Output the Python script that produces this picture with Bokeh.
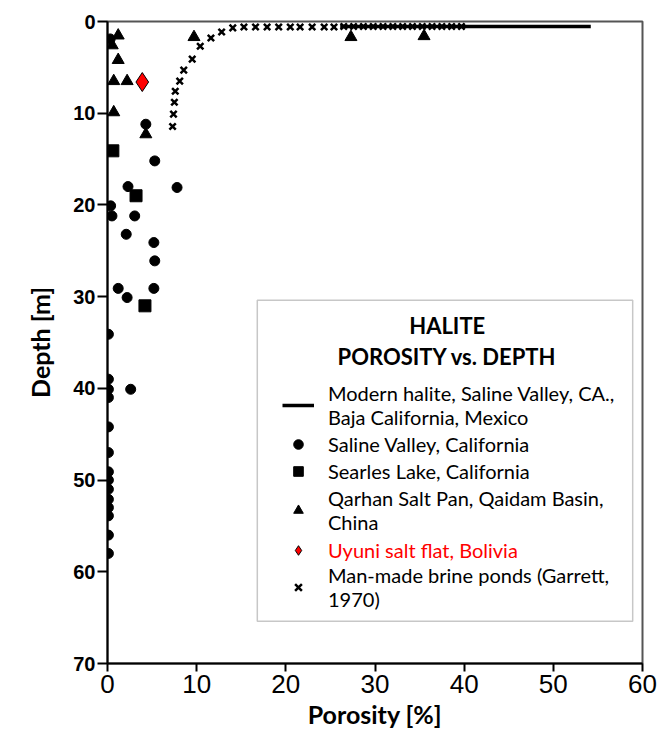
from bokeh.plotting import figure
from bokeh.models import Range1d, FixedTicker, Legend, LegendItem, BoxAnnotation, Label
from bokeh.embed import file_html
from bokeh.resources import INLINE

# ---------------- data ----------------
x_ticks = [0, 10, 20, 30, 40, 50, 60]
y_ticks = [0, 10, 20, 30, 40, 50, 60, 70]

halite_porosity = [26.1, 54.2]
halite_depth = [0.55, 0.55]

saline_porosity = [0.3, 4.3, 5.3, 2.3, 7.8, 0.35, 0.5, 3.05, 2.1, 5.2, 5.3, 1.2, 5.2, 2.2,
                   0.1, 0.1, 0.1, 2.6, 0.1,
                   0.1, 0.1, 0.1, 0.1, 0.1, 0.1, 0.1, 0.1, 0.1, 0.1]
saline_depth = [1.9, 11.2, 15.2, 18.0, 18.1, 20.1, 21.2, 21.2, 23.2, 24.1, 26.1, 29.1, 29.1, 30.1,
                34.1, 39.0, 40.1, 40.1, 41.0,
                44.2, 47.0, 49.1, 50.0, 51.0, 52.1, 53.0, 53.9, 56.0, 58.0]

searles_porosity = [0.6, 3.2, 4.2]
searles_depth = [14.1, 19.0, 31.0]

qarhan_porosity = [1.2, 0.53, 1.2, 0.7, 2.2, 0.7, 4.3, 9.7, 27.3, 35.5]
qarhan_depth = [1.53, 2.6, 4.2, 6.5, 6.5, 9.9, 12.3, 1.7, 1.7, 1.6]

uyuni_porosity = [3.9]
uyuni_depth = [6.6]

ponds_porosity = [7.3, 7.4, 7.5, 7.6, 8.1, 8.55, 9.5, 10.4, 11.6, 12.8, 14.05,
                  15.3, 16.6, 17.9, 19.2, 20.5, 21.6, 22.95, 24.3, 25.4,
                  26.5, 27.6, 28.7, 29.8, 30.9, 32.0, 33.1, 34.2, 35.3, 36.4, 37.5, 38.6, 39.7]
ponds_depth = [11.45, 10.1, 8.8, 7.6, 6.5, 5.3, 4.1, 2.7, 1.8, 1.15, 0.7,
               0.6, 0.6, 0.6, 0.6, 0.6, 0.6, 0.6, 0.6, 0.6,
               0.55, 0.55, 0.55, 0.55, 0.55, 0.55, 0.55, 0.55, 0.55, 0.55, 0.55, 0.55, 0.55]

legend_title_1 = "HALITE"
legend_title_2 = "POROSITY vs. DEPTH"
lbl_halite = "Modern halite, Saline Valley, CA.,\nBaja California, Mexico"
lbl_saline = "Saline Valley, California"
lbl_searles = "Searles Lake, California"
lbl_qarhan = "Qarhan Salt Pan, Qaidam Basin,\nChina"
lbl_uyuni = "Uyuni salt flat, Bolivia"
lbl_ponds = "Man-made brine ponds (Garrett,\n1970)"

# ---------------- figure ----------------
p = figure(width=657, height=738, output_backend="svg", toolbar_location=None,
           x_range=Range1d(0, 60), y_range=Range1d(70, 0),
           min_border_left=107, min_border_right=15, min_border_top=21, min_border_bottom=75)
p.background_fill_color = "white"
p.border_fill_color = "white"
p.xgrid.visible = False
p.ygrid.visible = False
p.outline_line_color = "#555555"
p.outline_line_width = 2

xa = p.xaxis[0]
xa.ticker = FixedTicker(ticks=x_ticks)
xa.minor_tick_line_color = None
xa.major_tick_in = 0
xa.major_tick_out = 8
xa.major_tick_line_width = 2
xa.axis_line_width = 2
xa.major_label_standoff = 3
xa.major_label_text_font = "Liberation Sans"
xa.major_label_text_font_size = "26px"
xa.major_label_text_color = "black"
xa.axis_label = "Porosity [%]"
xa.axis_label_text_font = "Lato"
xa.axis_label_text_font_style = "bold"
xa.axis_label_text_font_size = "25px"
xa.axis_label_text_color = "black"
xa.axis_label_standoff = 3

ya = p.yaxis[0]
ya.ticker = FixedTicker(ticks=y_ticks)
ya.minor_tick_line_color = None
ya.major_tick_in = 0
ya.major_tick_out = 10
ya.major_tick_line_width = 2
ya.axis_line_width = 2
ya.major_label_standoff = 2
ya.major_label_text_font = "Liberation Sans"
ya.major_label_text_font_style = "bold"
ya.major_label_text_font_size = "20px"
ya.major_label_text_color = "black"
ya.axis_label = "Depth [m]"
ya.axis_label_text_font = "Lato"
ya.axis_label_text_font_style = "bold"
ya.axis_label_text_font_size = "25px"
ya.axis_label_text_color = "black"
ya.axis_label_standoff = 15

# ---------------- data glyphs ----------------
r_line = p.line(halite_porosity, halite_depth, line_color="black", line_width=3.5)
r_ponds = p.scatter(ponds_porosity, ponds_depth, marker="x", size=9, line_color="black", line_width=2.5)
r_saline = p.scatter(saline_porosity, saline_depth, marker="circle", size=10, color="black")
r_searles = p.scatter(searles_porosity, searles_depth, marker="square", size=12, color="black")
r_qarhan = p.scatter(qarhan_porosity, qarhan_depth, marker="triangle", size=12, color="black")
r_uyuni = p.scatter(uyuni_porosity, uyuni_depth, marker="diamond", size=19,
                    fill_color="red", line_color="black", line_width=1)

# ---------------- legend ----------------
box = BoxAnnotation(left=16.8, right=58.9, top=30.4, bottom=65.4,
                    fill_color=None, fill_alpha=0, line_color="#444444", line_width=1.5)
p.add_layout(box)

p.add_layout(Label(x=38.1, y=33.2, text=legend_title_1, text_align="center", text_baseline="middle",
                   text_font="Lato", text_font_style="bold", text_font_size="22px", text_color="black"))
p.add_layout(Label(x=38.1, y=36.5, text=legend_title_2, text_align="center", text_baseline="middle",
                   text_font="Lato", text_font_style="bold", text_font_size="22px", text_color="black"))


def make_legend(items, loc, color="black"):
    lg = Legend(items=items, location=loc)
    lg.border_line_alpha = 0
    lg.background_fill_alpha = 0
    lg.padding = 0
    lg.margin = 0
    lg.spacing = 3
    lg.glyph_width = 32
    lg.glyph_height = 24
    lg.label_standoff = 14
    lg.label_height = 20
    lg.label_text_font = "Lato"
    lg.label_text_font_size = "20px"
    lg.label_text_color = color
    lg.label_text_line_height = 1.0
    return lg


leg1 = make_legend([
    LegendItem(label=lbl_halite, renderers=[r_line]),
    LegendItem(label=lbl_saline, renderers=[r_saline]),
    LegendItem(label=lbl_searles, renderers=[r_searles]),
    LegendItem(label=lbl_qarhan, renderers=[r_qarhan]),
], (175, 129))
leg2 = make_legend([LegendItem(label=lbl_uyuni, renderers=[r_uyuni])], (175, 101), color="red")
leg3 = make_legend([LegendItem(label=lbl_ponds, renderers=[r_ponds])], (175, 52))
p.add_layout(leg1)
p.add_layout(leg2)
p.add_layout(leg3)

open("out.html", "w").write(file_html(p, INLINE))
